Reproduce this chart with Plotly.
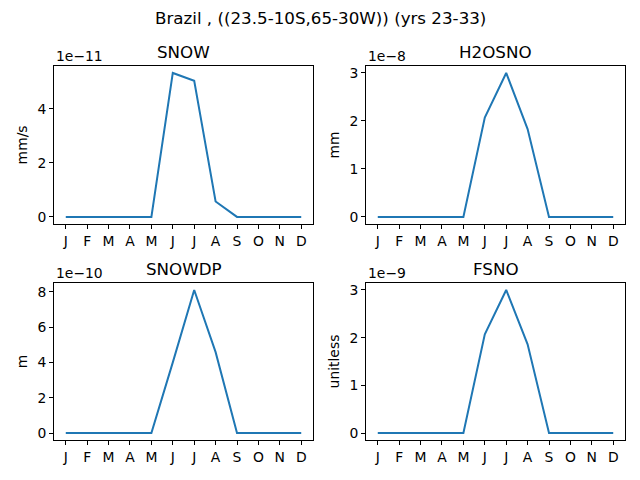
import plotly.graph_objects as go

# monthly climatology, Brazil region
months = ['J', 'F', 'M', 'A', 'M', 'J', 'J', 'A', 'S', 'O', 'N', 'D']
snow = [0, 0, 0, 0, 0, 5.33e-11, 5.04e-11, 0.57e-11, 0, 0, 0, 0]
h2osno = [0, 0, 0, 0, 0, 2.07e-8, 3.0e-8, 1.83e-8, 0, 0, 0, 0]
snowdp = [0, 0, 0, 0, 0, 4.0e-10, 8.1e-10, 4.58e-10, 0, 0, 0, 0]
fsno = [0, 0, 0, 0, 0, 2.07e-9, 3.0e-9, 1.86e-9, 0, 0, 0, 0]

panels = [
    ('SNOW', 'mm/s', snow, 1e-11, [0, 2, 4], '1e\u221211'),
    ('H2OSNO', 'mm', h2osno, 1e-8, [0, 1, 2, 3], '1e\u22128'),
    ('SNOWDP', 'm', snowdp, 1e-10, [0, 2, 4, 6, 8], '1e\u221210'),
    ('FSNO', 'unitless', fsno, 1e-9, [0, 1, 2, 3], '1e\u22129'),
]

# page body adds an 8px margin, so the figure is shrunk to fit the window
OFF = 8
W, H = 640 - OFF, 480 - OFF


def px(x):
    return (x - OFF) / W


def py(y):
    return 1 - (y - OFF) / H


# axes boxes measured in window pixels
xdoms = [[px(54), px(313)], [px(366), px(625)]]
ydoms = [[py(224), py(65)], [py(441), py(283)]]

font = dict(family='DejaVu Sans', size=13.9, color='black')
big = dict(family='DejaVu Sans', size=16.7, color='black')
fig = go.Figure()
layout = dict(
    width=W, height=H,
    margin=dict(l=0, r=0, t=0, b=0),
    paper_bgcolor='white', plot_bgcolor='white',
    font=font, showlegend=False,
)
annotations = []

for i, (name, unit, vals, scale, ticks, offset) in enumerate(panels):
    row, col = divmod(i, 2)
    n = i + 1
    xa = 'x' if n == 1 else 'x%d' % n
    ya = 'y' if n == 1 else 'y%d' % n
    fig.add_trace(go.Scatter(
        x=list(range(12)), y=vals, mode='lines',
        line=dict(color='#1f77b4', width=2),
        xaxis=xa, yaxis=ya,
    ))
    vmax = max(vals)
    pad = 0.05 * vmax
    axis_common = dict(
        showgrid=False, zeroline=False, showline=True, linecolor='black',
        linewidth=1, mirror=True, ticks='outside', ticklen=4,
        tickcolor='black', tickfont=font,
    )
    layout['xaxis' + ('' if n == 1 else str(n))] = dict(
        axis_common, domain=xdoms[col], anchor=ya,
        range=[-0.55, 11.55], tickvals=list(range(12)), ticktext=months,
    )
    layout['yaxis' + ('' if n == 1 else str(n))] = dict(
        axis_common, domain=ydoms[row], anchor=xa,
        range=[-pad, vmax + pad],
        tickvals=[t * scale for t in ticks], ticktext=[str(t) for t in ticks],
        title=dict(text=unit, font=font, standoff=6),
    )
    annotations.append(dict(
        text=name, xref='paper', yref='paper',
        x=sum(xdoms[col]) / 2, y=ydoms[row][1], yshift=2,
        xanchor='center', yanchor='bottom', showarrow=False, font=big,
    ))
    annotations.append(dict(
        text=offset, xref='paper', yref='paper',
        x=xdoms[col][0], y=ydoms[row][1], yshift=0,
        xanchor='left', yanchor='bottom', showarrow=False, font=font,
    ))

annotations.append(dict(
    text='Brazil , ((23.5-10S,65-30W)) (yrs 23-33)', xref='paper', yref='paper',
    x=px(320), y=py(17), xanchor='center', yanchor='middle',
    showarrow=False, font=big,
))
layout['annotations'] = annotations
fig.update_layout(**layout)

fig.write_html('out.html')
